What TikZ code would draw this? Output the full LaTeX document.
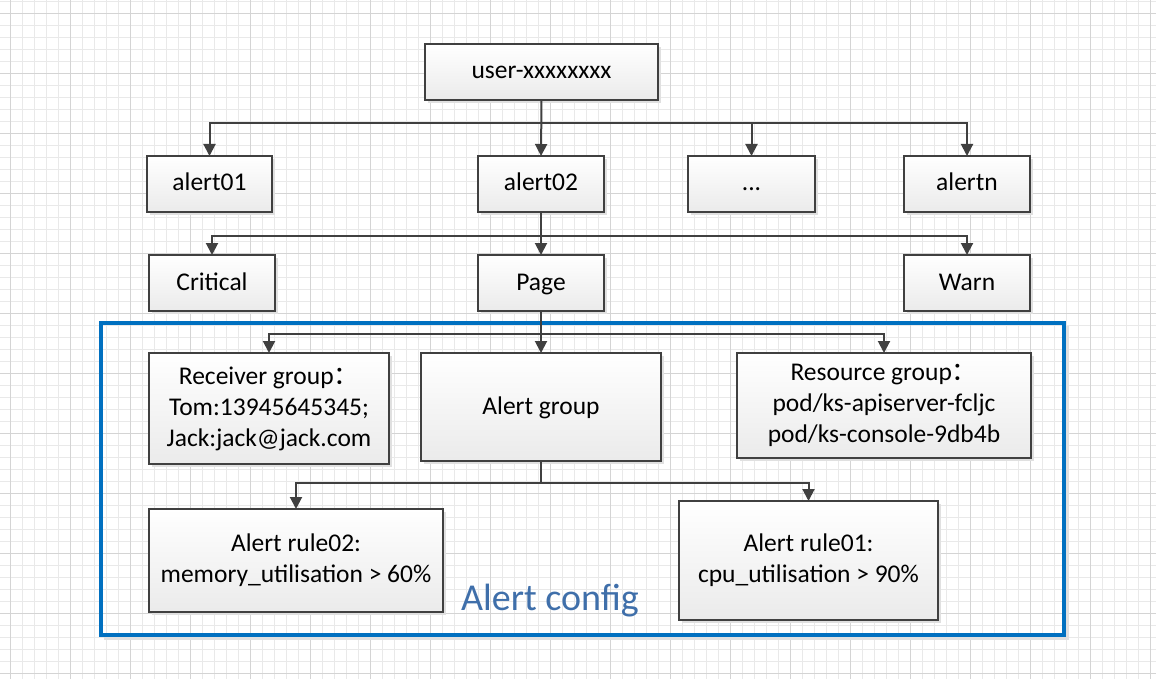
\documentclass[tikz,border=0pt]{standalone}
\usepackage{fontspec}
\setmainfont{Carlito}
\newfontfamily\cjk{Noto Sans CJK SC}
\usetikzlibrary{arrows.meta,shadows}
\definecolor{linec}{HTML}{404040}
\definecolor{boxblue}{HTML}{0070C0}
\definecolor{cfgtext}{HTML}{3F6FAA}
\definecolor{gridminor}{HTML}{E9E9E9}
\definecolor{gridmajor}{HTML}{D4D4D4}
\newcommand\onestrut{\rule[-7.5pt]{0pt}{29pt}}
\tikzset{
  box/.style={draw=linec, line width=1.2pt, top color=white, bottom color=black!8,
    drop shadow={shadow xshift=3pt, shadow yshift=-3pt, fill=black!12, opacity=1},
    align=center, inner sep=0pt, outer sep=0pt, font=\fontsize{25.5}{31}\selectfont},
  conn/.style={draw=linec, line width=2pt, -{Triangle[width=12pt,length=12pt]}},
}
\newcommand\boxnode[6]{\node[box, minimum width={(#4-#2)*1pt}, minimum height={(#5-#3)*1pt}] (#1) at ({(#2+#4)/2},{(#3+#5)/2}) {#6};}
\begin{document}
\begin{tikzpicture}[x=1pt,y=-1pt]
\useasboundingbox (0,0) rectangle (1156,679);
\fill[white] (0,0) rectangle (1156,679);
\begin{scope}
\clip (0,0) rectangle (1156,679);
\foreach \x in {-2,10,...,1160} \draw[gridminor, line width=1pt] (\x,0) -- (\x,679);
\foreach \y in {1.3,13.3,...,680} \draw[gridminor, line width=1pt] (0,\y) -- (1156,\y);
\foreach \x in {10,70,...,1160} \draw[gridmajor, line width=1pt] (\x,0) -- (\x,679);
\foreach \y in {13.3,73.3,...,680} \draw[gridmajor, line width=1pt] (0,\y) -- (1156,\y);
\end{scope}

% blue config frame
\draw[black!12, line width=4pt] (1067,326) -- (1067,638) -- (104,638);
\draw[boxblue, line width=4pt] (101,323) rectangle (1064,635);
\node[text=cfgtext, anchor=base, font=\fontsize{38}{40}\selectfont, inner sep=0pt] (cfg) at (550,610) {Alert config};

\boxnode{user}{425}{44}{658}{100}{\onestrut user-xxxxxxxx}
\boxnode{a1}{147}{156}{272}{212}{\onestrut alert01}
\boxnode{a2}{478}{156}{604}{212}{\onestrut alert02}
\boxnode{a3}{688}{156}{815}{212}{\onestrut ...}
\boxnode{an}{904}{156}{1030}{212}{\onestrut alertn}
\boxnode{crit}{149}{255}{275}{311}{\onestrut Critical}
\boxnode{page}{478}{255}{604}{311}{\onestrut Page}
\boxnode{warn}{904}{255}{1030}{311}{\onestrut Warn}
\boxnode{recv}{149}{353}{389}{464}{Receiver group{\cjk ：}\\Tom:13945645345;\\Jack:jack@jack.com}
\boxnode{ag}{421}{353}{661}{461}{\onestrut Alert group}
\boxnode{res}{737}{353}{1031}{458}{Resource group{\cjk ：}\\pod/ks-apiserver-fcljc\\pod/ks-console-9db4b}
\boxnode{r2}{149}{509}{443}{612}{Alert rule02:\\memory\_utilisation > 60\%}
\boxnode{r1}{679}{501}{938}{620}{Alert rule01:\\cpu\_utilisation > 90\%}

\coordinate (j1) at (541,123);
\coordinate (j2) at (541,236);
\coordinate (j3) at (541,334);
\coordinate (j4) at (541,483);

\draw[conn] (user.south) -- (a2.north);
\draw[conn] (j1) -| (a1.north);
\draw[conn] (j1) -| (a3.north);
\draw[conn] (j1) -| (an.north);

\draw[conn] (a2.south) -- (page.north);
\draw[conn] (j2) -| (crit.north);
\draw[conn] (j2) -| (warn.north);

\draw[conn] (page.south) -- (ag.north);
\draw[conn] (j3) -| (recv.north);
\draw[conn] (j3) -| (res.north);

\draw[draw=linec, line width=2pt] (ag.south) -- (j4);
\draw[conn] (j4) -| (r2.north);
\draw[conn] (j4) -| (r1.north);
\end{tikzpicture}
\end{document}
